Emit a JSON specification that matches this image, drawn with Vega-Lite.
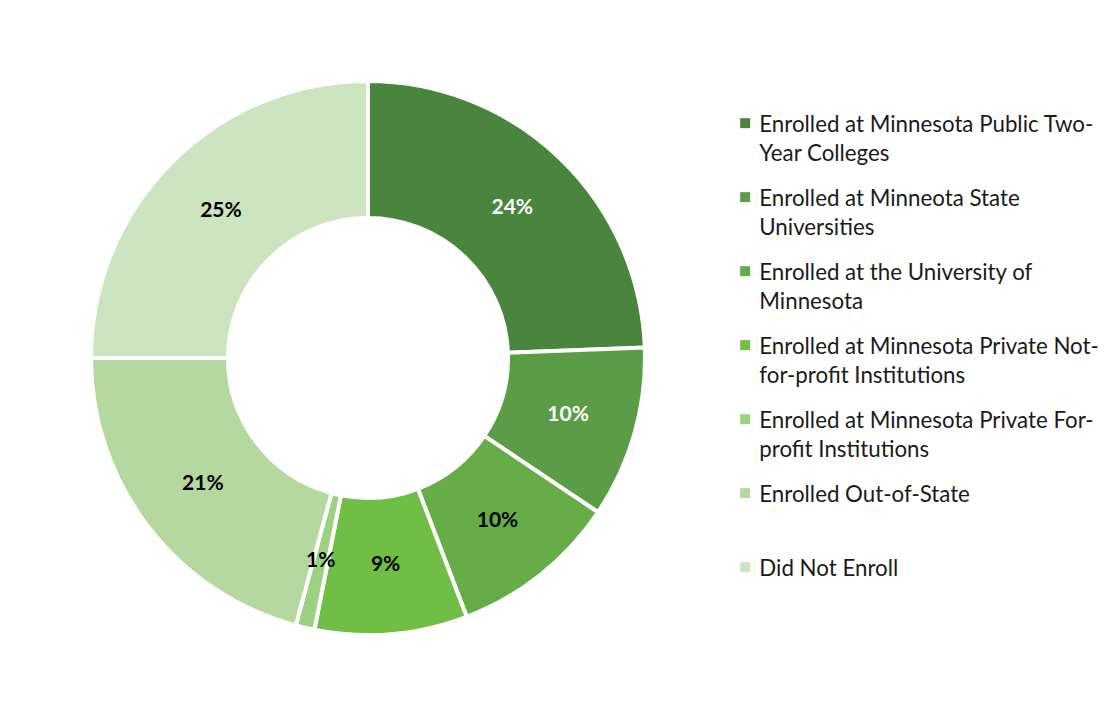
{
  "$schema": "https://vega.github.io/schema/vega-lite/v6.json",
  "width": 720,
  "height": 700,
  "padding": {"left": 8, "top": 8, "right": 0, "bottom": 0},
  "background": "white",
  "view": {"stroke": null},
  "config": {
    "style": {"guide-label": {"lineHeight": 29, "dy": -9}}
  },
  "data": {
    "values": [
      {"idx": 1, "category": "Enrolled at Minnesota Public Two-|Year Colleges", "value": 24.4, "label": "24%"},
      {"idx": 2, "category": "Enrolled at Minneota State|Universities", "value": 10.0, "label": "10%"},
      {"idx": 3, "category": "Enrolled at the University of|Minnesota", "value": 9.8, "label": "10%"},
      {"idx": 4, "category": "Enrolled at Minnesota Private Not-|for-profit Institutions", "value": 8.9, "label": "9%"},
      {"idx": 5, "category": "Enrolled at Minnesota Private For-|profit Institutions", "value": 1.1, "label": "1%"},
      {"idx": 6, "category": "Enrolled Out-of-State", "value": 20.8, "label": "21%"},
      {"idx": 7, "category": "Did Not Enroll", "value": 25.0, "label": "25%"}
    ]
  },
  "encoding": {
    "theta": {"field": "value", "type": "quantitative", "stack": true},
    "order": {"field": "idx", "type": "quantitative"}
  },
  "layer": [
    {
      "mark": {"type": "arc", "outerRadius": 277, "innerRadius": 140, "stroke": "white", "strokeWidth": 4},
      "encoding": {
        "color": {
          "field": "category",
          "type": "nominal",
          "sort": null,
          "scale": {
            "domain": [
              "Enrolled at Minnesota Public Two-|Year Colleges",
              "Enrolled at Minneota State|Universities",
              "Enrolled at the University of|Minnesota",
              "Enrolled at Minnesota Private Not-|for-profit Institutions",
              "Enrolled at Minnesota Private For-|profit Institutions",
              "Enrolled Out-of-State",
              "Did Not Enroll"
            ],
            "range": ["#4a853d", "#5b9c46", "#67ad47", "#71be44", "#9cd17f", "#b5d8a0", "#cde4c1"]
          },
          "legend": {
            "title": null,
            "orient": "none",
            "legendX": 726,
            "legendY": 104,
            "symbolType": "square",
            "symbolSize": 100,
            "symbolStrokeWidth": 0,
            "labelFont": "Lato",
            "labelFontSize": 22.3,
            "labelColor": "#1a1a1a",
            "labelLimit": 500,
            "labelOffset": 3,
            "labelBaseline": "top",
            "rowPadding": 20,
            "gridAlign": "all",
            "labelExpr": "split(datum.label, '|')"
          }
        }
      }
    },
    {
      "mark": {"type": "text", "radius": 208, "font": "Lato", "fontSize": 21, "fontWeight": "bold"},
      "encoding": {
        "text": {"field": "label", "type": "nominal"},
        "color": {
          "condition": {"test": "datum.idx <= 2", "value": "white"},
          "value": "black"
        }
      }
    }
  ]
}
